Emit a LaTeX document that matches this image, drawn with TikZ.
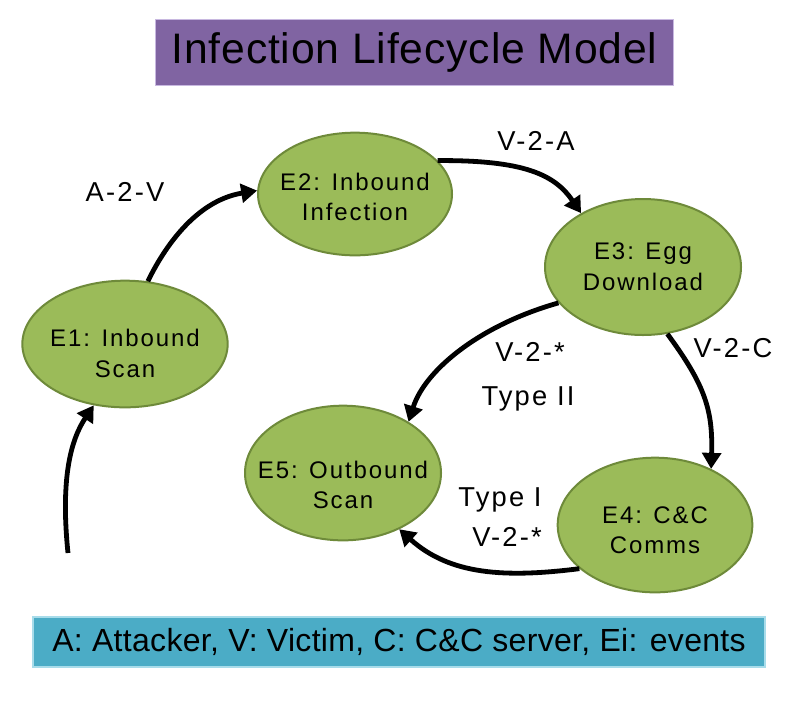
\documentclass[tikz,border=0pt]{standalone}
\usepackage{fontspec}
\setmainfont{Liberation Sans}
\usetikzlibrary{shapes.geometric,arrows.meta}
\definecolor{evgreen}{HTML}{9BBB59}
\definecolor{evborder}{HTML}{6E8A3A}
\definecolor{titlepurple}{HTML}{8064A2}
\definecolor{titleborder}{HTML}{C8B8E0}
\definecolor{legendblue}{HTML}{4BACC6}
\definecolor{legendborder}{HTML}{A8DCEA}
\tikzset{
  event/.style={ellipse, draw=evborder, line width=1.5pt, fill=evgreen,
    inner xsep=-20pt, inner ysep=-6pt,
    minimum width=147pt, minimum height=98pt, align=center,
    font=\fontsize{18}{23}\selectfont\addfontfeatures{LetterSpace=8}},
  flow/.style={line width=3.6pt, -{Triangle[length=12pt,width=14pt]}},
  lbl/.style={font=\fontsize{20.5}{24}\selectfont\addfontfeatures{LetterSpace=8}, inner sep=0pt},
  banner/.style={inner sep=0pt, line width=0.8pt}
}
\begin{document}
\begin{tikzpicture}[x=0.75pt,y=-0.75pt]
\useasboundingbox (0,0) rectangle (812,701);
% title
\node[banner, fill=titlepurple, draw=titleborder, minimum width=389pt, minimum height=49pt,
  font=\fontsize{32}{36}\selectfont\addfontfeatures{LetterSpace=2}] (title) at (414.5,52.5) {Infection Lifecycle Model};
% legend
\node[banner, fill=legendblue, draw=legendborder, minimum width=549pt, minimum height=37.5pt,
  font=\fontsize{24}{28}\selectfont\addfontfeatures{LetterSpace=1}] (legend) at (399,642) {A: Attacker, V: Victim, C: C\&C server, Ei: events};
% events
\node[event, minimum width=154pt, minimum height=95pt] (e1) at (125,344) {\rule{0pt}{27pt}E1: Inbound\\Scan};
\node[event, minimum width=145.5pt, minimum height=92pt] (e2) at (355,194) {\rule{0pt}{17.5pt}E2: Inbound\\Infection};
\node[event, minimum height=102pt] (e3) at (643,267) {E3: Egg\\Download};
\node[event, minimum width=146pt, minimum height=101pt] (e4) at (655,525) {\rule{0pt}{20.5pt}E4: C\&C\\Comms};
\node[event, minimum height=101pt] (e5) at (343,473) {\rule{0pt}{31pt}E5: Outbound\\Scan};
% connectors
\coordinate (start) at (68,553);
\draw[flow] (start) .. controls (60,475) and (72,438) .. (e1.243);
\draw[flow] (e1.70) .. controls (168,240) and (200,200) .. (e2.178);
\draw[flow] (e2.22) .. controls (525,160) and (555,175) .. (e3.139);
\draw[flow] (e3.-70) .. controls (705,385) and (713,410) .. (e4.45);
\draw[flow] (e3.203) .. controls (480,325) and (425,370) .. (e5.38);
\draw[flow] (e4.210) .. controls (505,578) and (450,575) .. (e5.-45);
% labels
\node[lbl] (l1) at (125,192) {A-2-V};
\node[lbl] (l2) at (536,141) {V-2-A};
\node[lbl] (l3) at (530,352) {V-2-*};
\node[lbl] (l4) at (528,399) {Type II};
\node[lbl] (l5) at (733,348) {V-2-C};
\node[lbl] (l6) at (500,500) {Type I};
\node[lbl] (l7) at (507,537) {V-2-*};
\end{tikzpicture}
\end{document}
